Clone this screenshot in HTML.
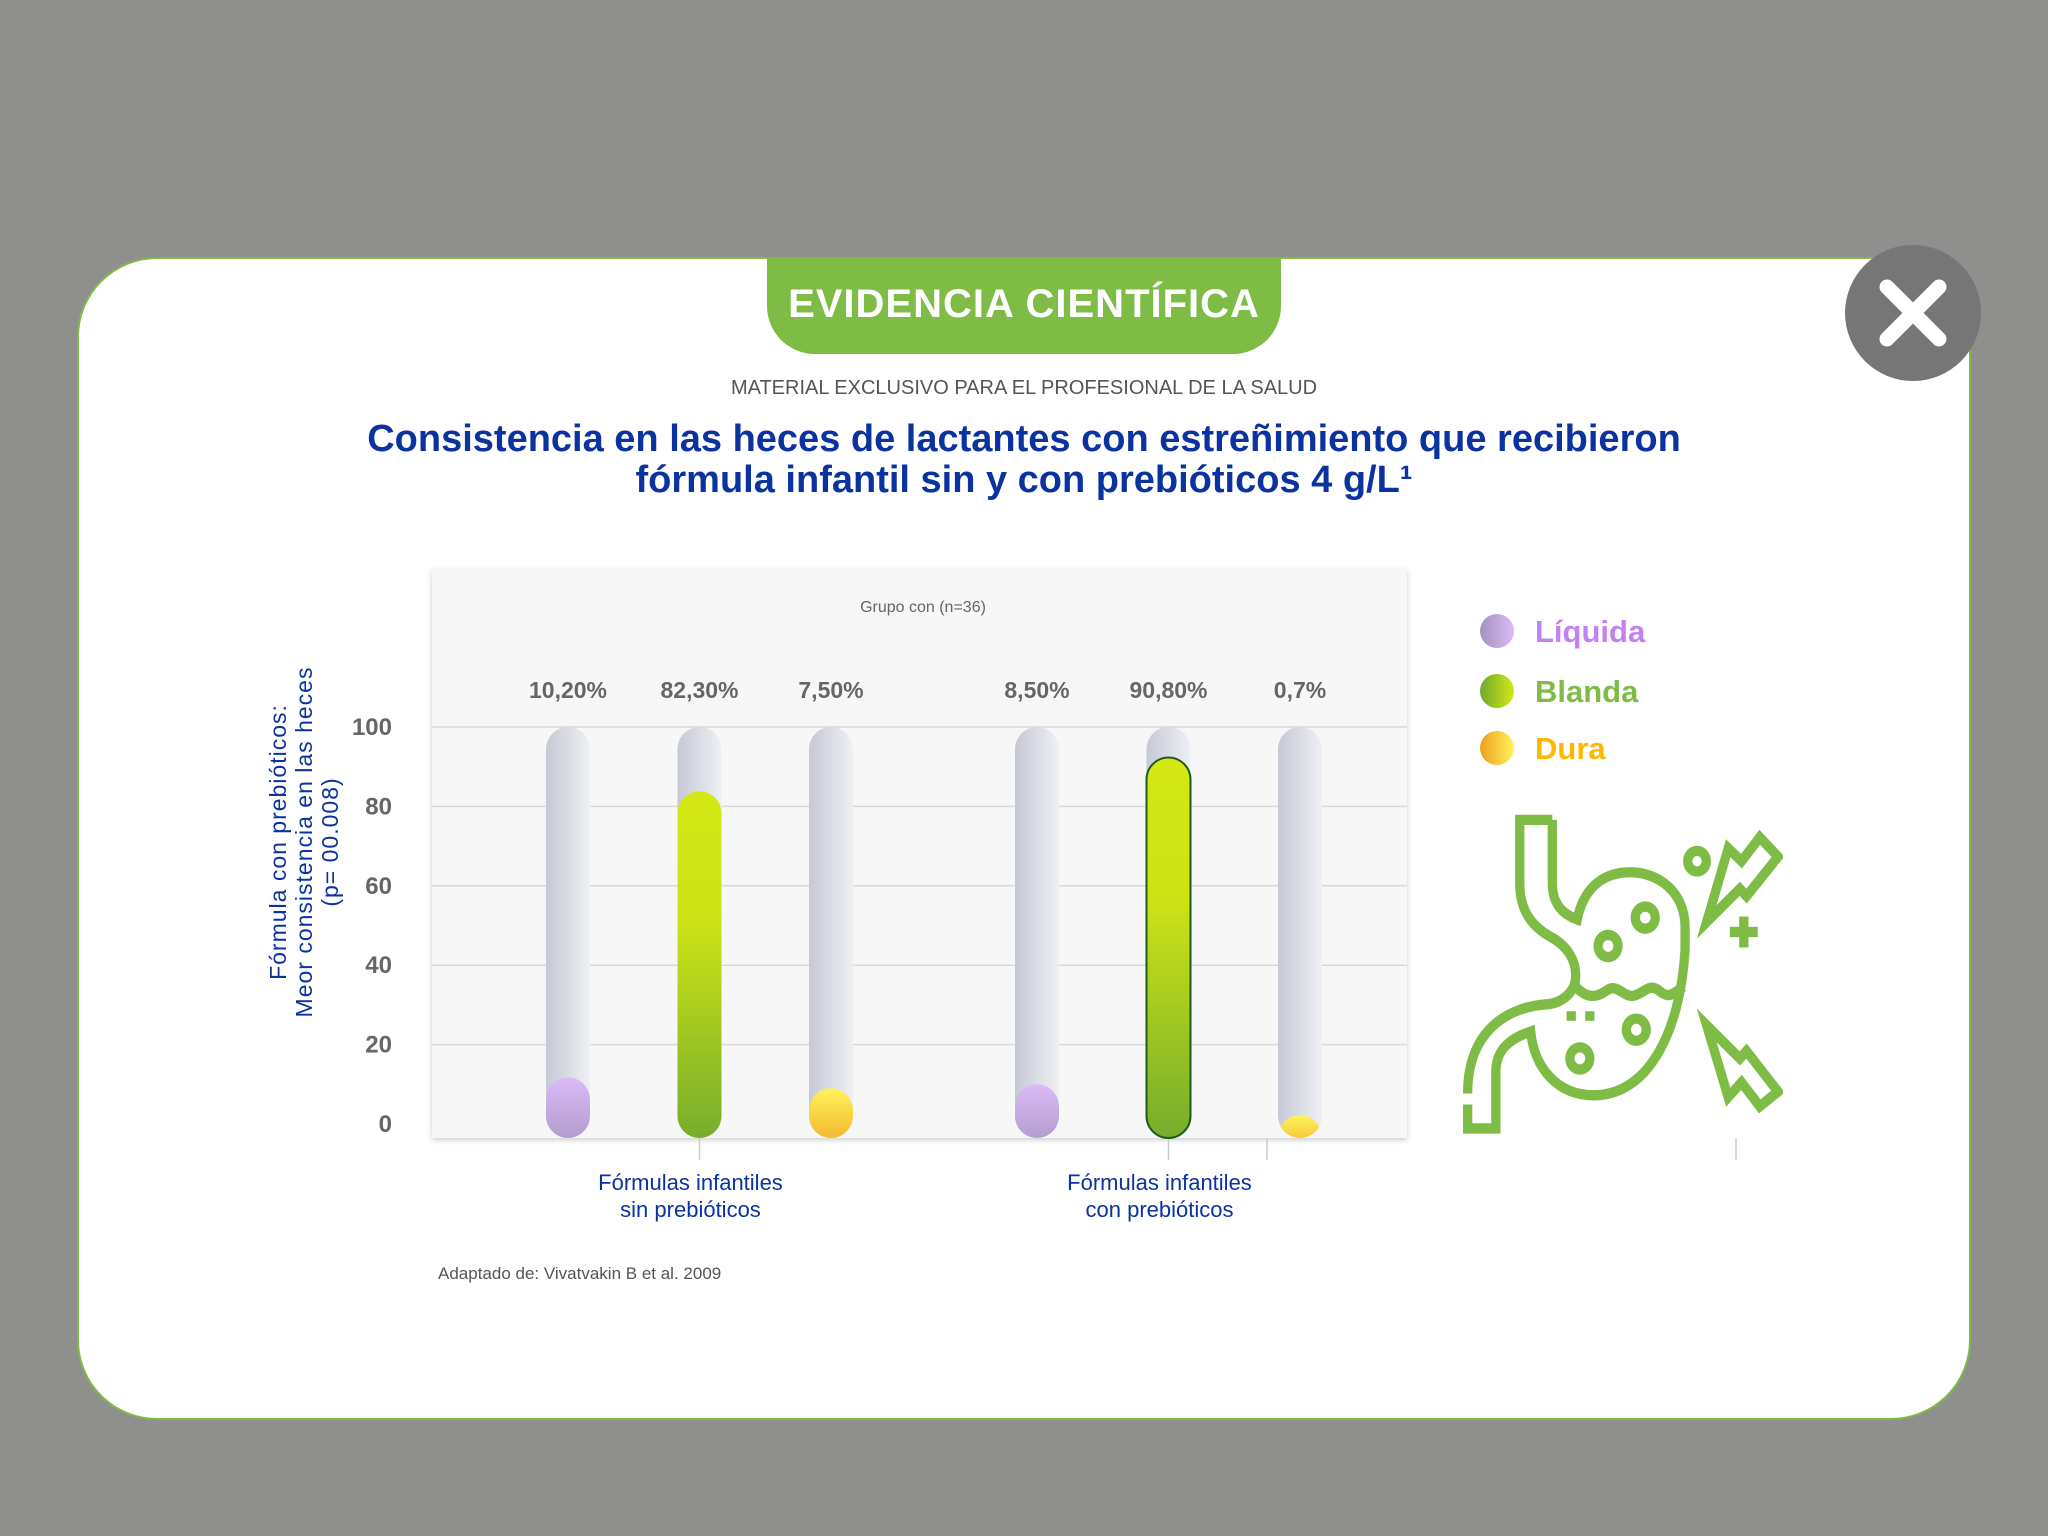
<!DOCTYPE html>
<html><head><meta charset="utf-8"><style>
html,body{margin:0;padding:0}
body{width:2048px;height:1536px;background:#8f8f8d;position:relative;overflow:hidden;font-family:"Liberation Sans",sans-serif}
.card{position:absolute;left:77px;top:257px;width:1894px;height:1163px;background:#fff;border:2px solid #7fbc46;border-radius:80px;box-sizing:border-box}
.tab{position:absolute;left:767px;top:257px;width:514px;height:97px;background:#7fbc46;border-radius:0 0 48px 48px;color:#fff;font-weight:bold;font-size:40px;text-align:center;line-height:94px;letter-spacing:1px}
.close{position:absolute;left:1845px;top:245px;width:136px;height:136px;border-radius:50%;background:#767676}
.t{position:absolute;white-space:nowrap}
</style></head><body>
<div class="card"></div>
<div class="tab">EVIDENCIA CIENTÍFICA</div>
<div class="close">
<svg width="136" height="136" viewBox="0 0 136 136"><path d="M42 42 L94 94 M94 42 L42 94" stroke="#fff" stroke-width="15" stroke-linecap="round"/></svg></div>
<div class="t" style="left:0;width:2048px;text-align:center;top:377px;font-size:20px;color:#555">MATERIAL EXCLUSIVO PARA EL PROFESIONAL DE LA SALUD</div>
<div class="t" style="left:0;width:2048px;text-align:center;top:419px;font-size:38px;line-height:41px;font-weight:bold;color:#0a33a0">Consistencia en las heces de lactantes con estreñimiento que recibieron<br>fórmula infantil sin y con prebióticos 4 g/L¹</div>
<div class="t" style="left:438px;top:1264px;font-size:17px;color:#555">Adaptado de: Vivatvakin B et al. 2009</div>

<svg id="chart" width="2048" height="1536" style="position:absolute;left:0;top:0">
<defs>
<filter id="sh" x="-5%" y="-5%" width="110%" height="110%"><feDropShadow dx="0" dy="2" stdDeviation="3" flood-color="#000" flood-opacity="0.2"/></filter>
<linearGradient id="trk" x1="0" x2="1" y1="0" y2="0"><stop offset="0" stop-color="#c6c9d6"/><stop offset="1" stop-color="#eef0f4"/></linearGradient>
<linearGradient id="g-liq" x1="0" x2="0" y1="0" y2="1"><stop offset="0" stop-color="#dbbaf8"/><stop offset="1" stop-color="#a592bd"/></linearGradient>
<linearGradient id="g-bla" x1="0" x2="0" y1="0" y2="1"><stop offset="0" stop-color="#d4e815"/><stop offset="0.35" stop-color="#cde316"/><stop offset="1" stop-color="#6ea82f"/></linearGradient>
<linearGradient id="g-dur" x1="0" x2="0" y1="0" y2="1"><stop offset="0" stop-color="#fff35c"/><stop offset="1" stop-color="#eea01e"/></linearGradient>
<linearGradient id="l-liq" x1="0" x2="1"><stop offset="0" stop-color="#a592bd"/><stop offset="1" stop-color="#dbbaf8"/></linearGradient>
<linearGradient id="l-bla" x1="0" x2="1"><stop offset="0" stop-color="#6ea82f"/><stop offset="1" stop-color="#d4e815"/></linearGradient>
<linearGradient id="l-dur" x1="0" x2="1"><stop offset="0" stop-color="#eea01e"/><stop offset="1" stop-color="#fff35c"/></linearGradient>
</defs>
<rect x="432" y="569" width="975" height="569" fill="#f7f7f7" filter="url(#sh)"/>
<g id="grid"></g><g id="bars"></g><g id="labels"></g>
<text x="923" y="612" font-size="16" fill="#666" text-anchor="middle">Grupo con (n=36)</text>
<text transform="translate(304,842) rotate(-90)" font-size="23" fill="#0a33a0" text-anchor="middle" letter-spacing="1"><tspan x="0" y="-18">Fórmula con prebióticos:</tspan><tspan x="0" y="8">Meor consistencia en las heces</tspan><tspan x="0" y="34">(p= 00.008)</tspan></text>
</svg>

<div>
<svg width="60" height="160" style="position:absolute;left:1470px;top:605px"><circle cx="27" cy="26" r="17" fill="url(#l-liq)"/><circle cx="27" cy="86" r="17" fill="url(#l-bla)"/><circle cx="27" cy="143" r="17" fill="url(#l-dur)"/></svg>
<div class="t" style="left:1535px;top:614px;font-size:31px;font-weight:bold;color:#c281f5">Líquida</div>
<div class="t" style="left:1535px;top:674px;font-size:31px;font-weight:bold;color:#7fbc46">Blanda</div>
<div class="t" style="left:1535px;top:731px;font-size:31px;font-weight:bold;color:#ffb800">Dura</div>
</div>

<svg width="320" height="320" viewBox="66 632 964 868" preserveAspectRatio="none" style="position:absolute;left:1463px;top:814px">
<g fill="none" stroke="#7fbc46" stroke-width="28" stroke-linejoin="miter">
<path d="M335,648 L237,648 L237,820 C237,900 280,940 330,965 C380,990 410,1030 405,1080 C400,1120 360,1145 320,1148 C200,1155 80,1220 80,1390"/>
<path d="M80,1420 L80,1485 L165,1485 L165,1330 C165,1270 210,1240 270,1222 C280,1320 350,1395 460,1395 C620,1395 720,1230 735,1000 L735,940 C735,840 650,790 570,790 C490,790 430,830 410,918 C370,905 335,880 335,820 L335,648"/>
<path d="M405,1100 C440,1135 470,1130 500,1110 C530,1090 550,1130 580,1125 C610,1120 625,1090 655,1110 C685,1135 700,1120 730,1100"/>
<circle cx="615" cy="913" r="30"/><circle cx="503" cy="990" r="30"/><circle cx="588" cy="1217" r="30"/><circle cx="418" cy="1295" r="30"/><circle cx="771" cy="760" r="28"/>
<path d="M800,925 L865,725 L905,760 L960,695 L1015,748 L920,855 L900,835 Z"/>
<path d="M800,1205 L865,1400 L905,1360 L960,1425 L1015,1385 L920,1275 L900,1295 Z"/>
</g>
<g fill="#7fbc46"><rect x="378" y="1167" width="28" height="26"/><rect x="434" y="1167" width="28" height="26"/><rect x="870" y="938" width="84" height="28"/><rect x="898" y="910" width="28" height="84"/></g>
</svg>

<script>
const categories = ["Fórmulas infantiles sin prebióticos", "Fórmulas infantiles con prebióticos"];
const series = ["Líquida", "Blanda", "Dura"];
const sinValues = [10.2, 82.3, 7.5];
const conValues = [8.5, 90.8, 0.7];
const valueLabels = ["10,20%", "82,30%", "7,50%", "8,50%", "90,80%", "0,7%"];
const yTicks = [0, 20, 40, 60, 80, 100];

const NS = "http://www.w3.org/2000/svg";
const y = v => 1124 - v * 3.97;
const groupX = g => 568 + g * 469;
const barX = (g, s) => groupX(g) + s * 131.5;
const fills = ["url(#g-liq)", "url(#g-bla)", "url(#g-dur)"];
const svg = document.getElementById("chart");
const defs = svg.querySelector("defs");
const grid = document.getElementById("grid"), bars = document.getElementById("bars"), labels = document.getElementById("labels");
function mk(tag, attrs, parent) { const e = document.createElementNS(NS, tag); for (const k in attrs) e.setAttribute(k, attrs[k]); parent.appendChild(e); return e; }

yTicks.forEach(t => {
  if (t > 0) {
    const l = mk("line", {x1: 432, x2: 1407, y1: y(t), y2: y(t), stroke: "#d8d8d8", "stroke-width": 1.5}, grid);
    
    
  }
  const tx = mk("text", {x: 392, y: y(t) + 8, "font-size": 24, "font-weight": "bold", fill: "#666", "text-anchor": "end"}, labels);
  tx.textContent = t;
  
  
});

[sinValues, conValues].forEach((vals, g) => {
  vals.forEach((v, s) => {
    const cx = barX(g, s);
    const cid = "clip" + g + s;
    const cp = mk("clipPath", {id: cid}, defs);
    mk("rect", {x: cx - 22, y: 727, width: 44, height: 411, rx: 22}, cp);
    const tr = mk("rect", {x: cx - 22, y: 727, width: 44, height: 411, rx: 22, fill: "url(#trk)"}, bars);
    
    
    const top = y(v) - 6;
    const attrs = {x: cx - 22, y: top, width: 44, height: 1160 - top, rx: 22, fill: fills[s], "clip-path": "url(#" + cid + ")"};
    const b = mk("rect", attrs, bars);
    
    
    if (g === 1 && s === 1) {
      const o = mk("rect", {x: cx - 22, y: top, width: 44, height: 1138 - top, rx: 22, fill: "none", stroke: "#1f5a1f", "stroke-width": 2}, bars);
      
      
    }
    const lt = mk("text", {x: cx, y: 698, "font-size": 23, "font-weight": "bold", fill: "#666", "text-anchor": "middle"}, labels);
    lt.textContent = valueLabels[g * 3 + s];
    
    
  });
  const tk = mk("line", {x1: barX(g, 1), x2: barX(g, 1), y1: 1138, y2: 1160, stroke: "#ccc", "stroke-width": 1.5}, grid);
  
  
  const words = categories[g].split(" ");
  const ct = mk("text", {x: barX(g, 1) - 9, y: 1190, "font-size": 22, fill: "#0a33a0", "text-anchor": "middle"}, labels);
  
  
  mk("tspan", {x: barX(g, 1) - 9, dy: 0}, ct).textContent = words.slice(0, 2).join(" ");
  mk("tspan", {x: barX(g, 1) - 9, dy: 27}, ct).textContent = words.slice(2).join(" ");
});
[1267, 1736].forEach(xv => {
  const tk = mk("line", {x1: xv, x2: xv, y1: 1138, y2: 1160, stroke: "#ccc", "stroke-width": 1.5}, grid);
  
  
});
</script>
</body></html>
